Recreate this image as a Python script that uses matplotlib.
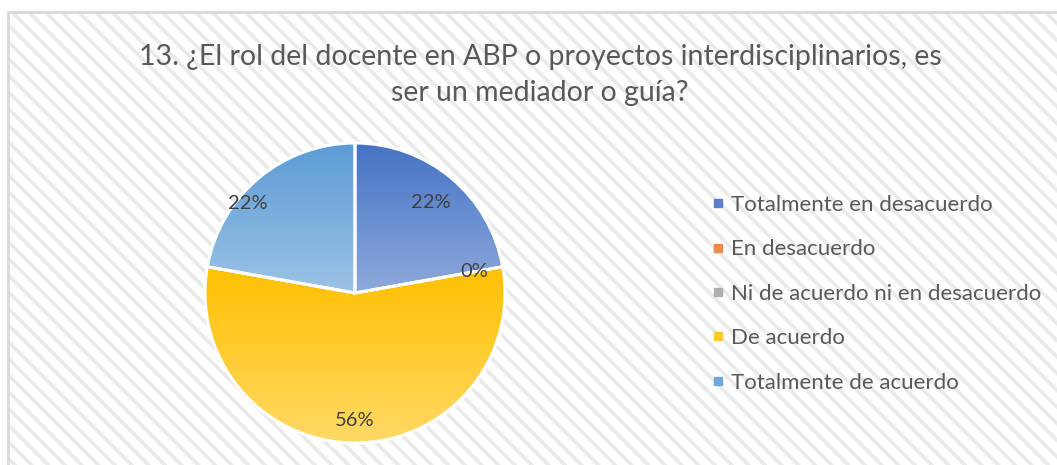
import numpy as np
import matplotlib
matplotlib.use("Agg")
import matplotlib.pyplot as plt
from matplotlib.patches import Rectangle
from matplotlib.lines import Line2D
from matplotlib.colors import LinearSegmentedColormap

# ---- data ----
categories = ["Totalmente en desacuerdo", "En desacuerdo",
              "Ni de acuerdo ni en desacuerdo", "De acuerdo",
              "Totalmente de acuerdo"]
values = [22.2, 0.0, 0.0, 55.6, 22.2]
pct_labels = ["22%", "0%", "", "56%", "22%"]
title = "13. ¿El rol del docente en ABP o proyectos interdisciplinarios, es\nser un mediador o guía?"

# ---- styles ----
top_colors = ["#4472C4", "#ED7D31", "#A5A5A5", "#FFC000", "#5B9BD5"]
bottom_colors = ["#8FAADC", "#F4B183", "#C9C9C9", "#FFD966", "#9DC3E6"]
legend_colors = ["#5B80C9", "#EE8A4A", "#AFAFAF", "#FFC826", "#6EA8DA"]
label_radius = [0.79, 0.81, 0.81, 0.85, 0.93]
label_angle_shift = [0, 0, 0, 0, 10]

plt.rcParams['font.family'] = ['Lato', 'DejaVu Sans']

W, H = 1057, 465
fig = plt.figure(figsize=(W / 100, H / 100), dpi=100)
fig.patch.set_facecolor("white")

# hatched chart-area background with border
plt.rcParams['hatch.linewidth'] = 2.6
bg = Rectangle((8 / W, 0), 1.2, 1 - 12 / H, transform=fig.transFigure,
               facecolor="white", edgecolor="#EAEAEA", hatch="\\\\",
               linewidth=0, zorder=-3)
fig.patches.append(bg)
border = Rectangle((8 / W, -0.1), 1.2, 1 - 12 / H + 0.1, transform=fig.transFigure,
                   facecolor="none", edgecolor="#D9D9D9", linewidth=2.0, zorder=-2)
fig.patches.append(border)

fig.text(540 / W, 1 - 75 / H, title, ha="center", va="center",
         fontsize=20.5, color="#595959", linespacing=1.5)

# pie axes
cx, cy, r = 355, 293, 150
ax = fig.add_axes([(cx - r - 5) / W, (H - cy - r - 5) / H, (2 * r + 10) / W, (2 * r + 10) / H])
ax.set_zorder(1)
ax.patch.set_visible(False)

wedges, _ = ax.pie(values, startangle=90, counterclock=False, radius=1.0,
                   colors=top_colors,
                   wedgeprops=dict(edgecolor="white", linewidth=2.2))

for i, w in enumerate(wedges):
    if values[i] <= 0:
        continue
    t1, t2 = np.deg2rad(w.theta1), np.deg2rad(w.theta2)
    th = np.linspace(t1, t2, 200)
    ys = np.concatenate([np.sin(th), [0.0]])
    ymin, ymax = ys.min(), ys.max()
    cmap = LinearSegmentedColormap.from_list("g%d" % i, [bottom_colors[i], top_colors[i]])
    grad = np.linspace(0, 1, 256).reshape(-1, 1)
    im = ax.imshow(grad, cmap=cmap, origin="lower", extent=[-1, 1, ymin, ymax],
                   aspect="auto", zorder=1, interpolation="bilinear")
    im.set_clip_path(w)
    w.set_facecolor("none")
    w.set_zorder(2)

ax.set_xlim(-1.0333, 1.0333)
ax.set_ylim(-1.0333, 1.0333)
ax.set_aspect("equal")
ax.axis("off")

for i, w in enumerate(wedges):
    if not pct_labels[i]:
        continue
    mid = np.deg2rad((w.theta1 + w.theta2) / 2 + label_angle_shift[i])
    rr = label_radius[i]
    ax.text(rr * np.cos(mid), rr * np.sin(mid), pct_labels[i], ha="center", va="center",
            fontsize=14.5, color="#404040", zorder=5)

handles = [Line2D([], [], marker="s", linestyle="none", markersize=6,
                  markerfacecolor=c, markeredgecolor=c) for c in legend_colors]
leg = fig.legend(handles, categories, loc="upper left",
                 bbox_to_anchor=(702 / W, 1 - 186 / H), frameon=False,
                 fontsize=16, labelcolor="#595959", handlelength=0.6,
                 handletextpad=0.3, labelspacing=1.1, borderaxespad=0)

fig.savefig("out.png", dpi=100, facecolor="white")
